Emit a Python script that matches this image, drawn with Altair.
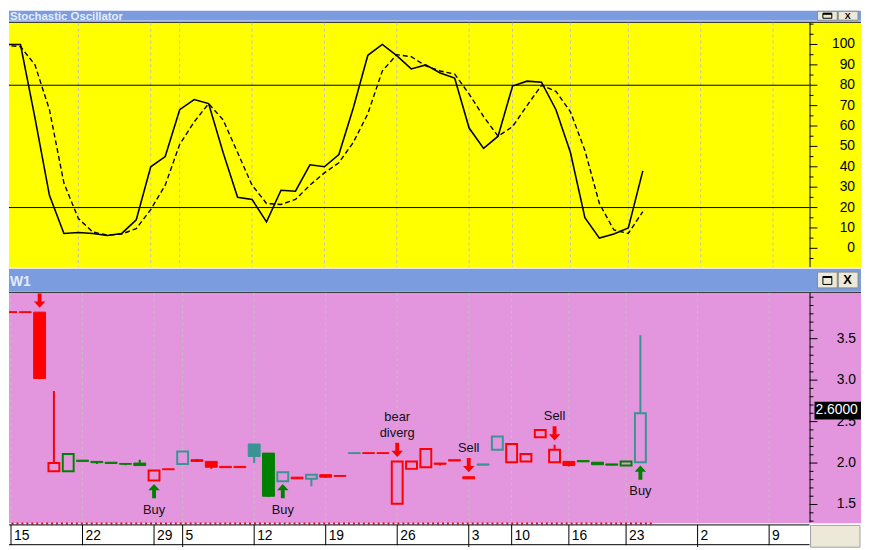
import altair as alt
import pandas as pd

# ---------------- data ----------------
# Stochastic oscillator (bar index, %K solid, %D dashed)
osc_index = list(range(-1, 45))
stoch_k = [100, 100, 100, 64, 26, 7.3, 7.8, 7.3, 6.3, 7.3, 14, 40, 45, 68, 73, 71, 47,
           25, 24, 13, 28.5, 28, 41, 40, 46, 69, 94.7, 100, 94.5, 88, 90, 86, 83.5, 59,
           49, 55, 79.6, 82, 81.5, 68, 47, 15, 5, 7, 10, 38]
stoch_d = [68, 99.5, 99, 90, 68, 32, 14.6, 8, 6.5, 7, 9.7, 19, 31, 51, 62, 71, 63,
           47, 31, 22, 21.5, 24, 31, 37, 42, 52, 66, 87, 95, 94, 89.5, 87, 85.5, 75.7,
           64.6, 55, 59.7, 70, 80, 77, 67, 48, 22, 9, 7.3, 18]
osc_levels = [20, 80]
osc_label_ticks = [0, 10, 20, 30, 40, 50, 60, 70, 80, 90, 100]
osc_minor_ticks = [-5, 5, 15, 25, 35, 45, 55, 65, 75, 85, 95, 105, 110]

# Daily candles
bar_index = list(range(45))
price_open = [3.825, 3.825, 3.82, 1.90, 1.90, 2.035, 2.02, 2.01, 1.995, 2.00,
              1.79, 1.93, 1.99, 2.04, 2.02, 1.96, 1.96, 2.23, 2.12, 1.78,
              1.83, 1.81, 1.86, 1.85, 2.125, 2.125, 2.125, 1.51, 1.93, 1.95,
              2.00, 2.04, 1.835, 1.99, 2.16, 2.01, 2.02, 2.31, 2.01, 2.02,
              2.03, 2.01, 1.99, 1.97, 2.01]
price_high = [3.825, 3.825, 3.82, 2.87, 2.12, 2.035, 2.02, 2.01, 1.995, 2.04,
              1.91, 1.93, 2.14, 2.05, 2.02, 1.96, 1.96, 2.23, 2.12, 1.89,
              1.83, 1.86, 1.86, 1.85, 2.125, 2.125, 2.125, 2.02, 2.02, 2.17,
              2.00, 2.04, 1.835, 1.99, 2.32, 2.23, 2.11, 2.40, 2.22, 2.02,
              2.03, 2.01, 1.99, 2.02, 3.54]
price_low = [3.815, 3.815, 3.01, 1.90, 1.90, 2.02, 1.99, 1.995, 1.975, 1.97,
             1.79, 1.92, 1.99, 2.02, 1.93, 1.945, 1.945, 2.00, 1.59, 1.78,
             1.81, 1.72, 1.82, 1.84, 2.11, 2.115, 2.115, 1.51, 1.93, 1.95,
             1.97, 2.025, 1.81, 1.975, 2.16, 2.01, 2.02, 2.31, 2.01, 1.96,
             2.015, 1.98, 1.975, 1.97, 2.01]
price_close = [3.815, 3.815, 3.02, 2.00, 2.11, 2.02, 2.005, 1.995, 1.985, 1.97,
               1.91, 1.92, 2.14, 2.02, 1.95, 1.945, 1.945, 2.08, 1.60, 1.89,
               1.81, 1.86, 1.83, 1.84, 2.115, 2.115, 2.115, 2.02, 2.02, 2.17,
               1.985, 2.025, 1.81, 1.975, 2.32, 2.23, 2.11, 2.40, 2.16, 1.97,
               2.015, 1.98, 1.975, 2.02, 2.60]
bar_tone = ["bear", "bear", "bear", "bear", "bull", "bull", "bull", "bull", "bull", "bull",
            "bear", "bear", "neutral", "bear", "bear", "bear", "bear", "neutral", "bull", "neutral",
            "bear", "neutral", "bear", "bear", "neutral", "bear", "bear", "bear", "bear", "bear",
            "bear", "bear", "bear", "neutral", "neutral", "bear", "bear", "bear", "bear", "bear",
            "bull", "bull", "bull", "bull", "neutral"]
price_major_ticks = [1.5, 2.0, 2.5, 3.0, 3.5]
price_minor_ticks = [1.3, 1.4, 1.6, 1.7, 1.8, 1.9, 2.1, 2.2, 2.3, 2.4, 2.6, 2.7, 2.8, 2.9,
                     3.1, 3.2, 3.3, 3.4, 3.6, 3.7, 3.8, 3.9, 4.0]

# Date axis (week starts)
week_index = [0, 5, 10, 12, 17, 22, 27, 32, 35, 39, 43, 48, 53]
week_label = ["15", "22", "29", "5", "12", "19", "26", "3", "10", "16", "23", "2", "9"]
month_index = [12, 32, 48]

# Expert signals
signal_index = [2, 10, 19, 27, 32, 38, 44]
signal_dir = ["down", "up", "up", "down", "down", "down", "up"]
signal_price = [3.959, 1.662, 1.662, 2.159, 1.976, 2.358, 1.884]
note_index = [10, 19, 27, 27, 32, 38, 44]
note_text = ["Buy", "Buy", "bear", "diverg", "Sell", "Sell", "Buy"]
note_price = [1.439, 1.439, 2.557, 2.358, 2.187, 2.569, 1.666]

# ---------------- style ----------------
FONT = "Liberation Sans"
YELLOW = "#FFFF00"
PINK = "#E396DE"
BLUE = "#7B9DE0"
TITLE_TXT = "#E6ECF8"
RED = "#FF0000"
GREEN = "#008000"
TEAL = "#399494"
GRID = "#C0C0C0"
BEIGE = "#ECE9D8"

W = 861
H_TOP = 260
H_BOT = 282
STEP = 14.625
XS = alt.Scale(domain=[3 / STEP, (W + 3) / STEP], nice=False, zero=False)
YS1 = alt.Scale(domain=[-20 / 2.06, 240 / 2.06], nice=False, zero=False)
YS2 = alt.Scale(domain=[2 - 85 / 83.8, 2 + 197 / 83.8], nice=False, zero=False)
TONE = alt.Scale(domain=["bear", "bull", "neutral"], range=[RED, GREEN, TEAL])

PATH_UP = "M0,-1L0.8,-0.12L0.27,-0.12L0.27,1L-0.27,1L-0.27,-0.12L-0.8,-0.12Z"
PATH_DOWN = "M0,1L0.8,0.12L0.27,0.12L0.27,-1L-0.27,-1L-0.27,0.12L-0.8,0.12Z"

ONE = pd.DataFrame({"k": [0]})


def px_rect(x, x2, y, y2, fill, stroke=None, sw=1.0):
    props = {"fill": fill}
    if stroke is not None:
        props.update(stroke=stroke, strokeWidth=sw)
    else:
        props.update(strokeWidth=0)
    return alt.Chart(ONE).mark_rect(**props).encode(
        x=alt.value(x), x2=alt.value(x2), y=alt.value(y), y2=alt.value(y2))


def px_frame(x, x2, y, y2, stroke, sw=1.0):
    return alt.Chart(ONE).mark_rect(fillOpacity=0, stroke=stroke, strokeWidth=sw).encode(
        x=alt.value(x), x2=alt.value(x2), y=alt.value(y), y2=alt.value(y2))


def px_hline(x, x2, y, color, sw=1.0):
    return alt.Chart(ONE).mark_rule(color=color, strokeWidth=sw).encode(
        x=alt.value(x), x2=alt.value(x2), y=alt.value(y))


def px_vline(x, y, y2, color, sw=1.0):
    return alt.Chart(ONE).mark_rule(color=color, strokeWidth=sw).encode(
        x=alt.value(x), y=alt.value(y), y2=alt.value(y2))


def px_text(x, y, text, size, color, bold=False, align="left", baseline="alphabetic", clip=False):
    return alt.Chart(ONE).mark_text(
        text=text, fontSize=size, color=color, font=FONT,
        fontWeight="bold" if bold else "normal", align=align, baseline=baseline, clip=clip
    ).encode(x=alt.value(x), y=alt.value(y))


def buttons(y, y2, icon_y, icon_y2, xsize):
    cy = (y + y2) / 2
    return [
        px_rect(817, 837, y, y2, BEIGE, stroke="#8A8A8A"),
        px_rect(838, 858, y, y2, BEIGE, stroke="#8A8A8A"),
        px_frame(822.5, 831.5, icon_y, icon_y2, "black"),
        px_hline(822.5, 831.5, icon_y + 0.5, "black", sw=2),
        px_text(847.5, cy, "X", xsize, "black", bold=True, align="center", baseline="middle"),
    ]


def value_axis(values, scale, fmt, label_x):
    df = pd.DataFrame({"v": values})
    ticks = alt.Chart(df).mark_rule(color="black").encode(
        y=alt.Y("v:Q", scale=scale, axis=None), x=alt.value(809), x2=alt.value(817))
    labels = alt.Chart(df).transform_calculate(lab=f"format(datum.v, '{fmt}')").mark_text(
        align="right", baseline="middle", fontSize=14, font=FONT, color="black").encode(
        y=alt.Y("v:Q", scale=scale, axis=None), x=alt.value(label_x), text="lab:N")
    return [ticks, labels]


week_df = pd.DataFrame({"i": week_index, "lab": week_label})
month_df = pd.DataFrame({"i": month_index})

# ---------------- top panel: stochastic oscillator ----------------
osc_df = pd.DataFrame({"i": osc_index, "k": stoch_k, "d": stoch_d})

top_grid = alt.Chart(week_df).mark_rule(color=GRID, strokeDash=[3, 3], clip=True).encode(
    x=alt.X("i:Q", scale=XS, axis=None), y=alt.value(12), y2=alt.value(259))
top_levels = alt.Chart(pd.DataFrame({"v": osc_levels})).mark_rule(color="black").encode(
    y=alt.Y("v:Q", scale=YS1, axis=None), x=alt.value(0), x2=alt.value(809))
top_minor = alt.Chart(pd.DataFrame({"v": osc_minor_ticks})).mark_rule(color="black").encode(
    y=alt.Y("v:Q", scale=YS1, axis=None), x=alt.value(809), x2=alt.value(813))
d_line = alt.Chart(osc_df).mark_line(color="black", strokeWidth=1.4, strokeDash=[5, 3], clip=True).encode(
    x=alt.X("i:Q", scale=XS, axis=None), y=alt.Y("d:Q", scale=YS1, axis=None))
k_line = alt.Chart(osc_df).mark_line(color="black", strokeWidth=1.6, clip=True).encode(
    x=alt.X("i:Q", scale=XS, axis=None), y=alt.Y("k:Q", scale=YS1, axis=None))

top_layers = [
    px_rect(0, W, 12, 259, YELLOW),
    px_rect(0, W, 0, 10, BLUE),
    px_rect(0, W, 10, 11, "#D6DEEE"),
    px_rect(0, W, 11, 12, "black"),
    px_rect(0, W, 259, 260, "#E6E6E6"),
    top_grid,
    top_levels,
    px_vline(809.5, 12, 259, "black"),
    top_minor,
] + value_axis(osc_label_ticks, YS1, "d", 855) + [
    d_line,
    k_line,
    px_text(1, 9.5, "Stochastic Oscillator", 11.5, TITLE_TXT, bold=True, align="left"),
] + buttons(0.5, 9.5, 2.5, 7.5, 9)

top = alt.layer(*top_layers).properties(width=W, height=H_TOP)

# ---------------- bottom panel: candles ----------------
cdl_df = pd.DataFrame({"i": bar_index, "o": price_open, "h": price_high,
                       "l": price_low, "c": price_close, "tone": bar_tone})

bot_grid = alt.Chart(week_df).mark_rule(color=GRID, strokeDash=[3, 3], clip=True).encode(
    x=alt.X("i:Q", scale=XS, axis=None), y=alt.value(25), y2=alt.value(257))
bot_minor = alt.Chart(pd.DataFrame({"v": price_minor_ticks})).mark_rule(color="black").encode(
    y=alt.Y("v:Q", scale=YS2, axis=None), x=alt.value(809), x2=alt.value(813))
wicks = alt.Chart(cdl_df).mark_rule(strokeWidth=2, clip=True).encode(
    x=alt.X("i:Q", scale=XS, axis=None),
    y=alt.Y("l:Q", scale=YS2, axis=None), y2="h:Q",
    color=alt.Color("tone:N", scale=TONE, legend=None))
solid_bodies = alt.Chart(cdl_df).transform_filter("datum.c < datum.o").mark_bar(
    size=12, strokeWidth=1, clip=True).encode(
    x=alt.X("i:Q", scale=XS, axis=None),
    y=alt.Y("o:Q", scale=YS2, axis=None), y2="c:Q",
    color=alt.Color("tone:N", scale=TONE, legend=None),
    stroke=alt.Stroke("tone:N", scale=TONE, legend=None))
hollow_bodies = alt.Chart(cdl_df).transform_filter("datum.c >= datum.o").mark_bar(
    size=11, strokeWidth=2, fill=PINK, clip=True).encode(
    x=alt.X("i:Q", scale=XS, axis=None),
    y=alt.Y("o:Q", scale=YS2, axis=None), y2="c:Q",
    stroke=alt.Stroke("tone:N", scale=TONE, legend=None))

sig_df = pd.DataFrame({"i": signal_index, "dir": signal_dir, "p": signal_price})
arrows = alt.Chart(sig_df).mark_point(filled=True, size=210, opacity=1, strokeWidth=0, clip=True).encode(
    x=alt.X("i:Q", scale=XS, axis=None),
    y=alt.Y("p:Q", scale=YS2, axis=None),
    shape=alt.Shape("dir:N", scale=alt.Scale(domain=["down", "up"], range=[PATH_DOWN, PATH_UP]), legend=None),
    color=alt.Color("dir:N", scale=alt.Scale(domain=["down", "up"], range=[RED, GREEN]), legend=None))
notes_df = pd.DataFrame({"i": note_index, "t": note_text, "p": note_price})
notes = alt.Chart(notes_df).mark_text(fontSize=13, font=FONT, color="#101018", align="center",
                                      baseline="middle").encode(
    x=alt.X("i:Q", scale=XS, axis=None), y=alt.Y("p:Q", scale=YS2, axis=None), text="t:N")

span_df = pd.DataFrame({"a": [bar_index[0] - 1], "b": [bar_index[-1] + 1]})
data_span = alt.Chart(span_df).mark_rule(color=RED, strokeWidth=2, strokeDash=[2, 3], clip=True).encode(
    x=alt.X("a:Q", scale=XS, axis=None), x2="b:Q", y=alt.value(258))

date_ticks = alt.Chart(week_df).mark_rule(color="black", clip=True).encode(
    x=alt.X("i:Q", scale=XS, axis=None), y=alt.value(259.5), y2=alt.value(280))
month_ticks = alt.Chart(month_df).mark_rule(color="black", clip=True).encode(
    x=alt.X("i:Q", scale=XS, axis=None), y=alt.value(280), y2=alt.value(282))
date_labels = alt.Chart(week_df).mark_text(align="left", baseline="alphabetic", dx=3, fontSize=14,
                                           font=FONT, color="black", clip=True).encode(
    x=alt.X("i:Q", scale=XS, axis=None), y=alt.value(275), text="lab:N")

last_df = pd.DataFrame({"p": [price_close[-1]]})
price_box = alt.Chart(last_df).transform_calculate(
    top="datum.p + 0.14", bot="datum.p - 0.075").mark_rect(color="black").encode(
    x=alt.value(814), x2=alt.value(861),
    y=alt.Y("top:Q", scale=YS2, axis=None), y2="bot:Q")
price_txt = alt.Chart(last_df).transform_calculate(
    lab="format(datum.p, '.4f')").mark_text(align="left", baseline="middle", color="white",
                                           fontSize=14, font=FONT, dy=-3).encode(
    x=alt.value(815), y=alt.Y("p:Q", scale=YS2, axis=None), text="lab:N")

bot_layers = [
    px_rect(0, W, 25, 258, PINK),
    px_rect(0, W, 0, 1, "#E6E6E6"),
    px_rect(0, W, 1, 23, BLUE),
    px_rect(0, W, 23, 24, "#D6DEEE"),
    px_rect(0, W, 24, 25, "black"),
    px_rect(0, W, 258, 282, "white"),
    bot_grid,
    px_vline(809.5, 25, 257, "black"),
    bot_minor,
] + value_axis(price_major_ticks, YS2, ".1f", 856) + [
    wicks,
    solid_bodies,
    hollow_bodies,
    arrows,
    notes,
    data_span,
    px_hline(0, 809, 259.5, "black"),
    px_hline(0, 809, 279.5, "black"),
    date_ticks,
    month_ticks,
    date_labels,
    px_rect(810, 860, 260, 282, BEIGE, stroke="#A0A0A0"),
    price_box,
    price_txt,
    px_text(1, 18, "W1", 14, TITLE_TXT, bold=True, align="left"),
] + buttons(4, 20, 8.5, 16.5, 13)

bottom = alt.layer(*bot_layers).properties(width=W, height=H_BOT)

chart = alt.vconcat(top, bottom, spacing=0).properties(
    padding=0, background="white"
).configure_view(stroke=None)

chart.save("out.html", embed_options={"renderer": "svg", "actions": False})
